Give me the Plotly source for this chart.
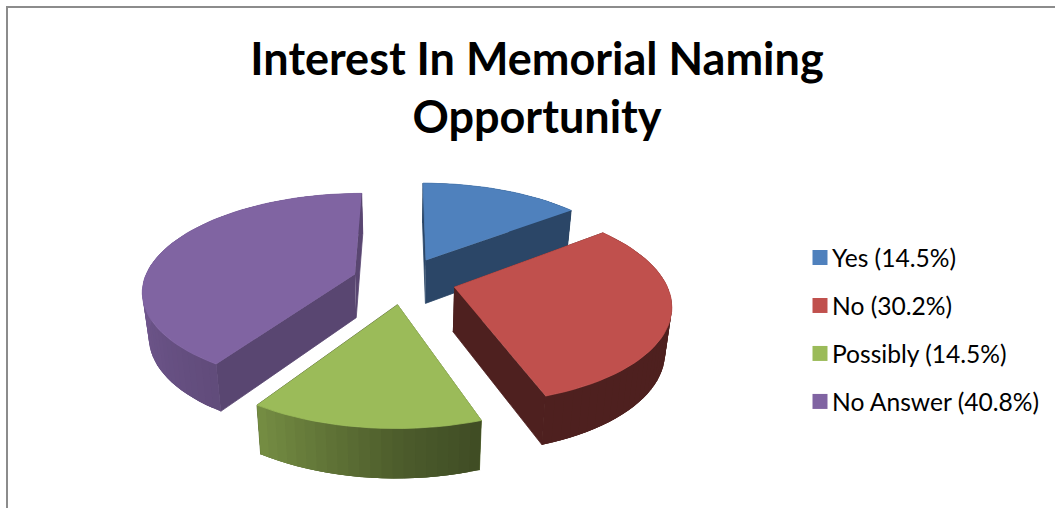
import numpy as np
import plotly.graph_objects as go

# ---- data ----
categories = ["Yes", "No", "Possibly", "No Answer"]
percents = [14.5, 30.2, 14.5, 40.8]
title_lines = ["Interest In Memorial Naming", "Opportunity"]
top_colors = [(79, 129, 189), (192, 80, 77), (155, 187, 89), (128, 100, 162)]
cut_shade = [0.55, 0.41, 0.55, 0.70]

# ---- projection of the exploded 3D pie (style constants) ----
CX, CY, R, TILT, PERSP, EXPLODE, DEPTH, TAPER = 404, 280.5, 211, 0.452, 0.16, 0.245, 44, 0.975
shade_ang = [0, 90, 161, 180, 213, 260, 300, 360]
shade_val = [0.5, 0.41, 0.41, 0.5, 0.76, 0.87, 0.85, 0.8]


def project(X, Y, bottom=False):
    s = 1 / (1 + PERSP * Y)
    sx = R * X * s
    sy = -R * TILT * Y * s
    if bottom:
        return CX + sx * TAPER, CY + sy + DEPTH * (1 + 0.55 * (s - 1))
    return CX + sx, CY + sy


def rgb(c, f=1.0):
    return "rgb(%d,%d,%d)" % tuple(int(v * f) for v in c)


fig = go.Figure()


def poly(xs, ys, color, lw=0.8):
    fig.add_trace(go.Scatter(x=xs, y=ys, mode="lines", fill="toself", fillcolor=color,
                             line=dict(color=color, width=lw), hoverinfo="skip", showlegend=False))


def rim(i, angs, tx, ty, bx, by, keep):
    """Paint the outer wall strips whose angle satisfies keep; each strip overlaps the next to hide seams."""
    idx = [k for k in range(len(angs) - 1) if keep(angs[k] % 360)]
    if not idx:
        return
    a, b = idx[0], idx[-1] + 1
    f_mean = np.mean([np.interp(angs[k], shade_ang, shade_val) for k in idx])
    poly([*tx[a:b + 1], *bx[a:b + 1][::-1]], [*ty[a:b + 1], *by[a:b + 1][::-1]], rgb(top_colors[i], f_mean), 0)
    for k in idx:
        e = min(k + 2, b)
        f = np.interp((angs[k] + angs[k + 1]) / 2, shade_ang, shade_val)
        poly([tx[k], tx[e], bx[e], bx[k]], [ty[k], ty[e], by[e], by[k]], rgb(top_colors[i], f), 0)


total = sum(percents)
starts = np.cumsum([0] + percents[:-1]) / total * 360
sweeps = np.array(percents) / total * 360
order = [0, 3, 1, 2]  # back slices first


def is_back(a):
    return a < 90 or a > 270


def is_front(a):
    return not is_back(a)


for i in order:
    a0, sw = starts[i], sweeps[i]
    mid = np.radians(a0 + sw / 2)
    ox, oy = EXPLODE * np.sin(mid), EXPLODE * np.cos(mid)
    angs = np.linspace(a0, a0 + sw, int(sw / 2.5) + 2)
    rad = np.radians(angs)
    X = ox + np.sin(rad)
    Y = oy + np.cos(rad)
    tx, ty = project(X, Y)
    bx, by = project(X, Y, True)
    ax_t, ay_t = project(ox, oy)
    ax_b, ay_b = project(ox, oy, True)
    rim(i, angs, tx, ty, bx, by, is_back)
    for k in (0, -1):
        poly([ax_t, tx[k], bx[k], ax_b], [ay_t, ty[k], by[k], ay_b], rgb(top_colors[i], cut_shade[i]))
    rim(i, angs, tx, ty, bx, by, is_front)
    poly([ax_t, *tx], [ay_t, *ty], rgb(top_colors[i]))

# legend entries
for i, cat in enumerate(categories):
    fig.add_trace(go.Scatter(x=[None], y=[None], mode="markers", name=f"{cat} ({percents[i]}%)",
                             legendgroup=cat,
                             marker=dict(symbol="square", size=15, color=rgb(top_colors[i]))))

fig.update_layout(
    width=1055, height=508, margin=dict(l=0, r=0, t=0, b=0),
    paper_bgcolor="white", plot_bgcolor="white",
    xaxis=dict(range=[0, 1055], visible=False, fixedrange=True),
    yaxis=dict(range=[508, 0], visible=False, fixedrange=True),
    font=dict(family="Lato", color="black"),
    title=dict(text="<br>".join(title_lines), x=537 / 1055, xanchor="center", y=1 - 74.5 / 508, yanchor="top",
               font=dict(family="Lato", size=45, weight="bold", color="black")),
    legend=dict(x=792 / 1055, xanchor="left", y=1 - 235 / 508, yanchor="top", tracegroupgap=13,
                font=dict(family="Lato", size=24.6), bgcolor="rgba(0,0,0,0)", itemclick=False, itemdoubleclick=False),
    shapes=[
        dict(type="line", xref="paper", yref="paper", x0=6.5 / 1055, x1=1, y0=1 - 7 / 508, y1=1 - 7 / 508,
             line=dict(color="#8c8c8c", width=2)),
        dict(type="line", xref="paper", yref="paper", x0=7 / 1055, x1=7 / 1055, y0=1 - 6 / 508, y1=0,
             line=dict(color="#8c8c8c", width=2)),
    ],
)
fig.write_html(
    "out.html",
    config={"displayModeBar": False},
    post_script=(
        "document.body.style.margin='0';document.documentElement.style.overflow='hidden';"
        "document.querySelectorAll('.legendpoints').forEach(function(g){g.setAttribute('transform','translate(8,0)');});"
    ),
)
